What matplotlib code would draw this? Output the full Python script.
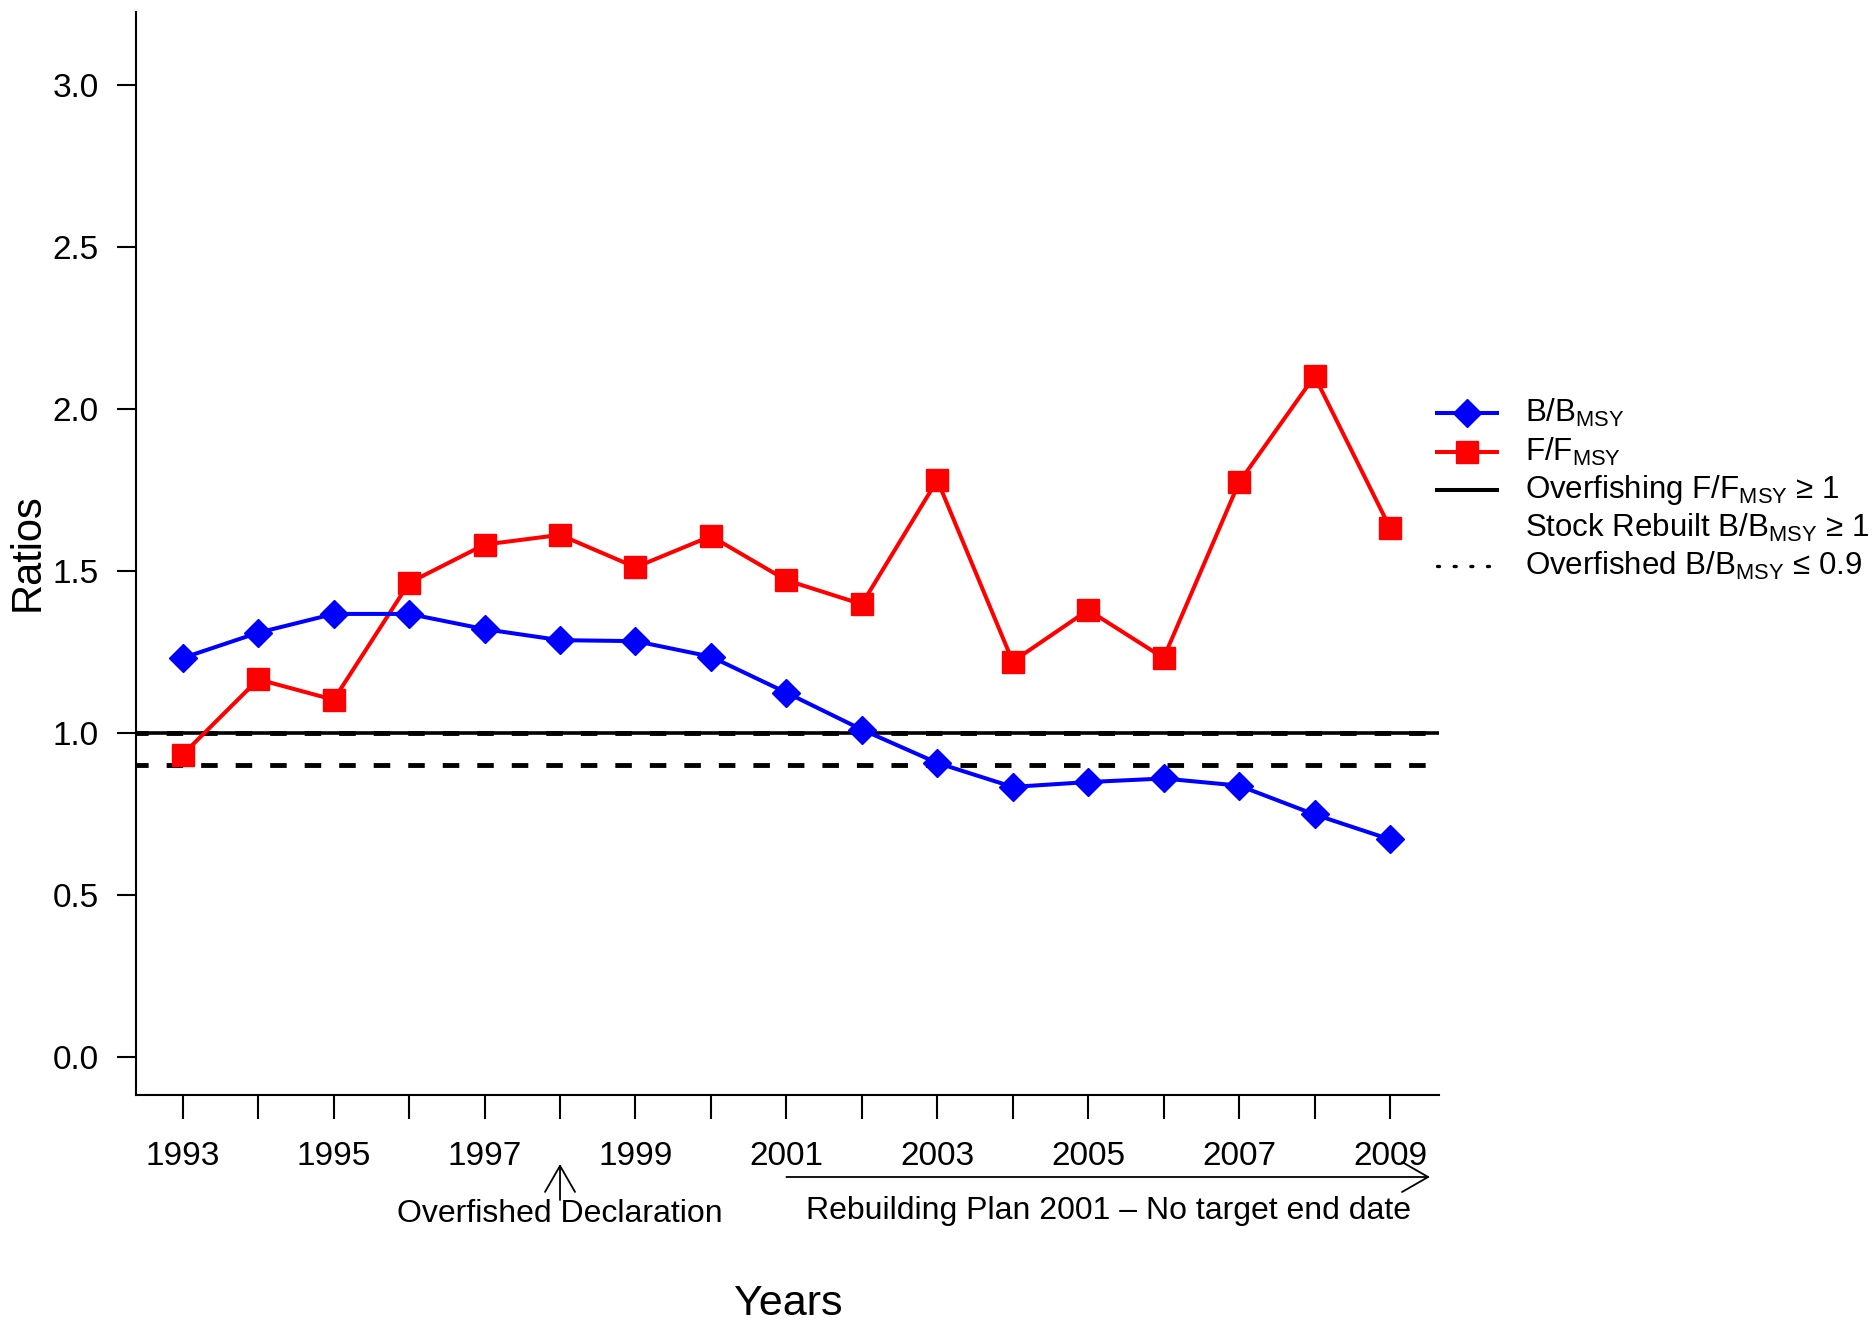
import matplotlib
matplotlib.use("Agg")
import matplotlib.pyplot as plt
from matplotlib.lines import Line2D

plt.rcParams['font.family'] = ['Liberation Sans', 'DejaVu Sans']
plt.rcParams['mathtext.fontset'] = 'custom'
plt.rcParams['mathtext.rm'] = 'Liberation Sans'
plt.rcParams['mathtext.it'] = 'Liberation Sans'
plt.rcParams['mathtext.bf'] = 'Liberation Sans'

years = list(range(1993, 2010))
b_bmsy = [1.231, 1.309, 1.367, 1.367, 1.320, 1.286, 1.283, 1.235, 1.124,
          1.010, 0.907, 0.833, 0.848, 0.859, 0.837, 0.748, 0.671]
f_fmsy = [0.933, 1.165, 1.102, 1.463, 1.581, 1.611, 1.511, 1.607, 1.471,
          1.397, 1.780, 1.220, 1.379, 1.231, 1.773, 2.101, 1.633]
overfishing_ref = 1.0
overfished_ref = 0.9
y_ticks = [0.0, 0.5, 1.0, 1.5, 2.0, 2.5, 3.0]
x_label_years = [1993, 1995, 1997, 1999, 2001, 2003, 2005, 2007, 2009]
legend_labels = [r'B/B$_{\mathrm{MSY}}$', r'F/F$_{\mathrm{MSY}}$',
                 r'Overfishing F/F$_{\mathrm{MSY}}$ ≥ 1',
                 r'Stock Rebuilt B/B$_{\mathrm{MSY}}$ ≥ 1',
                 r'Overfished B/B$_{\mathrm{MSY}}$ ≤ 0.9']

W, H = 1873, 1327
fig = plt.figure(figsize=(W / 100, H / 100), dpi=100)
ax = fig.add_axes([136 / W, 1 - 1095 / H, (1439 - 136) / W, (1095 - 12) / H])

ax.axhline(overfishing_ref, color='black', lw=2.6, zorder=1)
ax.axhline(overfishing_ref, color='black', lw=3.5, ls=(8, (3.4, 3.7)), zorder=1)
ax.axhline(overfished_ref, color='black', lw=3.5, ls=(8, (3.4, 3.7)), zorder=1)

ax.plot(years, f_fmsy, color='#ff0000', lw=2.9, marker='s', ms=16,
        mec='#ff0000', mfc='#ff0000', zorder=3)
ax.plot(years, b_bmsy, color='#0000ff', lw=2.9, marker='D', ms=14.5,
        mec='#0000ff', mfc='#0000ff', zorder=4)

ax.set_xlim(1992.38, 2009.65)
ax.set_ylim(-0.118, 3.225)
ax.set_yticks(y_ticks)
ax.set_yticklabels([f'{v:.1f}' for v in y_ticks])
ax.set_xticks(years)
ax.set_xticklabels([str(y) if y in x_label_years else '' for y in years])
ax.spines['top'].set_visible(False)
ax.spines['right'].set_visible(False)
for s in ['left', 'bottom']:
    ax.spines[s].set_linewidth(1.5)
ax.tick_params(axis='both', direction='out', length=14, width=1.5,
               labelsize=24, color='black')
ax.tick_params(axis='y', pad=13)
ax.tick_params(axis='x', pad=16, length=17)

# axis titles
fig.text(788 / W, 1 - 1304 / H, 'Years', ha='center', va='center', fontsize=31)
fig.text(28 / W, 1 - 552 / H, 'Ratios', ha='center', va='center',
         fontsize=30, rotation=90)

# annotations
arrow_style = '->,head_length=0.94,head_width=0.54'
ax.annotate('', xy=(1998, 1 - 1164 / H), xytext=(1998, 1 - 1200 / H),
            xycoords=('data', 'figure fraction'),
            textcoords=('data', 'figure fraction'),
            arrowprops=dict(arrowstyle=arrow_style, mutation_scale=20,
                            lw=1.3, color='black', shrinkA=0, shrinkB=0))
fig.text(560 / W, 1 - 1214 / H, 'Overfished Declaration', ha='center',
         va='center', fontsize=23)
ax.annotate('', xy=(2009.53, 1 - 1177 / H), xytext=(2001, 1 - 1177 / H),
            xycoords=('data', 'figure fraction'),
            textcoords=('data', 'figure fraction'),
            arrowprops=dict(arrowstyle=arrow_style, mutation_scale=20,
                            lw=1.3, color='black', shrinkA=0, shrinkB=0))
fig.text(1108 / W, 1 - 1211 / H, 'Rebuilding Plan 2001 – No target end date',
         ha='center', va='center', fontsize=23)

# legend (manual)
rows = [413, 451.5, 490, 528, 566]
x0, x1, xt = 1437, 1497, 1525
styles = [dict(color='#0000ff', lw=2.9, marker='D', ms=14.5),
          dict(color='#ff0000', lw=2.9, marker='s', ms=16),
          dict(color='black', lw=2.9),
          None,
          dict(color='black', lw=2.4, ls=(0, (0.6, 4.4)), dash_capstyle='round')]
for r, st, lab in zip(rows, styles, legend_labels):
    yf = 1 - r / H
    if st is not None:
        mk = st.pop('marker', None)
        ms = st.pop('ms', None)
        fig.add_artist(Line2D([x0 / W, x1 / W], [yf, yf], transform=fig.transFigure, **st))
        if mk:
            fig.add_artist(Line2D([(x0 + x1) / 2 / W], [yf], transform=fig.transFigure,
                                  marker=mk, ms=ms, color=st['color'], lw=0))
    fig.text(xt / W, yf, lab, ha='left', va='center', fontsize=22.5)

fig.savefig('out.png', dpi=100)
